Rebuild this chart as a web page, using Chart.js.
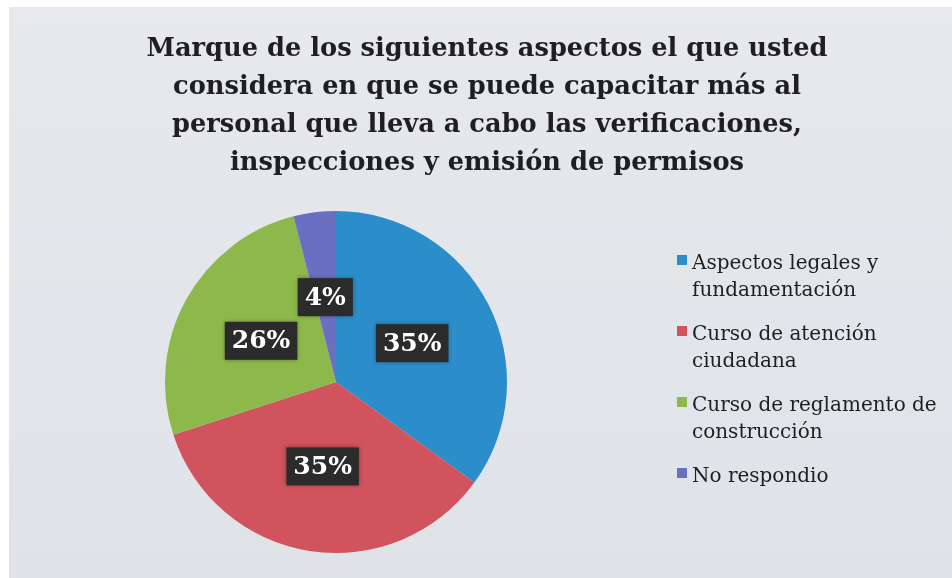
<!DOCTYPE html>
<html>
<head>
<meta charset="utf-8">
<script src="https://cdn.jsdelivr.net/npm/chart.js@4/dist/chart.umd.min.js"></script>
<style>
  html, body { margin: 0; padding: 0; background: #ffffff; }
  #wrap { position: absolute; left: 9px; top: 7px; width: 943px; height: 571px;
          background: linear-gradient(180deg, #e7e9ec 0%, #e2e5e9 60%, #dfe3e8 100%); }
  canvas { display: block; }
</style>
</head>
<body>
<div id="wrap"><canvas id="pie" width="943" height="571"></canvas></div>
<script>
// titolo e dati
const titleLines = [
    'Marque de los siguientes aspectos el que usted',
    'considera en que se puede capacitar más al',
    'personal que lleva a cabo las verificaciones,',
    'inspecciones y emisión de permisos'
];
const categories = [
    ['Aspectos legales y', 'fundamentación'],
    ['Curso de atención', 'ciudadana'],
    ['Curso de reglamento de', 'construcción'],
    ['No respondio']
];
const percentages = [35, 35, 26, 4];
const sliceColors = ['#2b8dca', '#d0535d', '#8db84b', '#6a6fc1'];

// titolo disegnato a mano, centrato sul canvas
const titlePlugin = {
    id: 'bigTitle',
    afterDraw(chart) {
        const c = chart.ctx;
        c.save();
        c.fillStyle = '#1f1f1f';
        c.font = 'bold 25.7px "DejaVu Serif"';
        c.textAlign = 'center';
        c.textBaseline = 'alphabetic';
        titleLines.forEach((t, i) => c.fillText(t, 478, 49 + i * 38));
        c.restore();
    }
};

// etichette percentuali in riquadri scuri a metà raggio
const boxLabels = {
    id: 'boxLabels',
    afterDatasetsDraw(chart) {
        const c = chart.ctx;
        const meta = chart.getDatasetMeta(0);
        c.save();
        c.font = 'bold 25px "DejaVu Serif"';
        c.textAlign = 'center';
        c.textBaseline = 'middle';
        meta.data.forEach((arc, i) => {
            const p = arc.tooltipPosition();
            const txt = percentages[i] + '%';
            const w = c.measureText(txt).width + 14;
            const h = 38;
            c.shadowColor = 'rgba(0,0,0,0.35)';
            c.shadowBlur = 4;
            c.fillStyle = '#2b2b2b';
            c.fillRect(p.x - w / 2, p.y - h / 2, w, h);
            c.shadowBlur = 0;
            c.fillStyle = '#ffffff';
            c.fillText(txt, p.x, p.y + 1);
        });
        c.restore();
    }
};

// legenda a destra con testo su due righe
const sideLegend = {
    id: 'sideLegend',
    afterDraw(chart) {
        const c = chart.ctx;
        c.save();
        c.font = '20px "DejaVu Serif"';
        c.textBaseline = 'alphabetic';
        c.textAlign = 'left';
        let y = 262;
        categories.forEach((lines, i) => {
            c.fillStyle = sliceColors[i];
            c.fillRect(668, y - 14, 10, 10);
            c.fillStyle = '#1f1f1f';
            lines.forEach((t, j) => c.fillText(t, 683, y + j * 27));
            y += 71;
        });
        c.restore();
    }
};

new Chart(document.getElementById('pie'), {
    type: 'pie',
    data: {
        labels: categories.map(l => l.join(' ')),
        datasets: [{
            data: percentages,
            backgroundColor: sliceColors,
            borderWidth: 0
        }]
    },
    options: {
        responsive: false,
        animation: false,
        layout: { padding: { left: 156, right: 943 - 498, top: 204, bottom: 571 - 546 } },
        plugins: {
            legend: { display: false },
            title: { display: false },
            tooltip: { enabled: false }
        }
    },
    plugins: [titlePlugin, boxLabels, sideLegend]
});
</script>
</body>
</html>
